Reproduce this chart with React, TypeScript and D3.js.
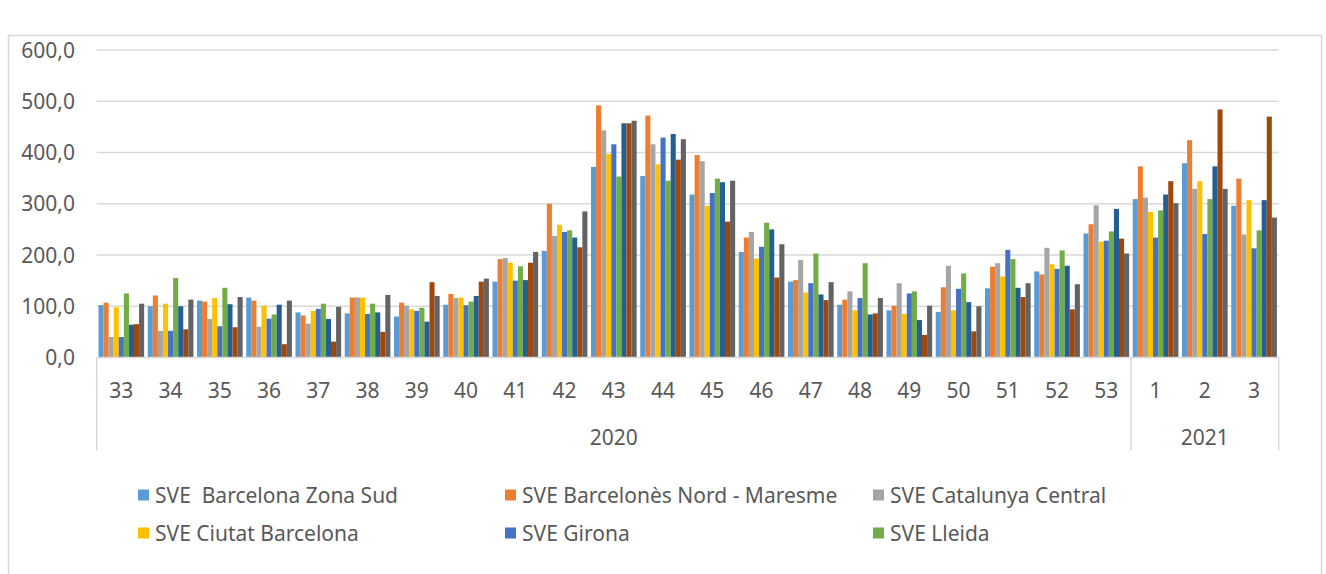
import React from "react";
import * as d3 from "d3";

const weeks = ["33","34","35","36","37","38","39","40","41","42","43","44","45","46","47","48","49","50","51","52","53","1","2","3"];
const years = [
  { label: "2020", from: 0, to: 21 },
  { label: "2021", from: 21, to: 24 },
];
const seriesNames = [
  "SVE  Barcelona Zona Sud",
  "SVE Barcelonès Nord - Maresme",
  "SVE Catalunya Central",
  "SVE Ciutat Barcelona",
  "SVE Girona",
  "SVE Lleida",
  "SVE Tarragona",
  "SVE Terres de l'Ebre",
  "SVE Vallès Occidental i Vallès Oriental",
];
const legendCount = 6;
const colors = ["#5B9BD5","#ED7D31","#A5A5A5","#FFC000","#4472C4","#70AD47","#255E91","#9E480E","#636363"];

const barcelonaZonaSud = [102,100,111,117,88,86,80,103,148,208,372,354,318,206,148,103,92,89,135,168,242,309,379,296];
const barcelonesNord   = [107,121,109,111,82,117,107,124,192,300,492,472,395,234,151,113,101,137,177,162,260,373,424,349];
const catalunyaCentral = [40,52,75,60,66,117,101,116,194,237,443,416,383,245,190,129,145,179,184,214,297,312,329,240];
const ciutatBarcelona  = [98,105,116,101,91,117,94,117,185,259,397,377,296,193,127,92,85,92,158,182,226,284,344,307];
const girona           = [40,52,61,76,95,85,91,102,150,245,416,429,321,216,145,116,125,134,210,173,228,234,241,213];
const lleida           = [125,155,136,84,105,105,97,109,178,248,353,345,349,263,203,184,129,164,192,209,246,287,309,248];
const tarragona        = [64,100,104,103,75,88,70,120,151,234,457,436,342,250,123,84,73,108,136,179,290,318,373,307];
const terresEbre       = [65,55,59,26,31,50,147,148,185,215,457,386,265,156,112,86,44,51,118,94,232,344,484,470];
const valles           = [105,113,118,111,99,122,120,154,206,285,462,426,345,221,147,116,101,100,145,143,203,301,329,273];

const seriesValues = [barcelonaZonaSud, barcelonesNord, catalunyaCentral, ciutatBarcelona, girona, lleida, tarragona, terresEbre, valles];
const yTicks = [0, 100, 200, 300, 400, 500, 600];

const W = 1326, H = 574;
const plotLeft = 96.7, plotRight = 1278.7, plotTop = 50, plotBottom = 357.5;
const FONT = "'Noto Sans', 'Open Sans', sans-serif";
const FS = 21;
const labelColor = "#595959";
const gridColor = "#D9D9D9";

export default function App() {
  const x0 = d3.scaleBand<string>().domain(weeks.map((w, i) => i + "")).range([plotLeft, plotRight]).paddingInner(0).paddingOuter(0);
  const step = x0.step();
  const groupW = step * 0.927;
  const x1 = d3.scaleBand<number>().domain(d3.range(seriesNames.length)).range([0, groupW]).padding(0);
  const y = d3.scaleLinear().domain([0, 600]).range([plotBottom, plotTop]);
  const fmt = (v: number) => d3.format(".1f")(v).replace(".", ",");

  const legendCols = [138, 505, 873];
  const legendRows = [495, 533];

  return (
    <svg width={W} height={H} style={{ position: "absolute", left: 0, top: 0, background: "#fff" }} fontFamily={FONT}>
      <rect x={0} y={0} width={W} height={H} fill="#fff" />
      <rect x={8.5} y={35.5} width={1313} height={H + 10} fill="none" stroke={gridColor} strokeWidth={1.5} />
      {yTicks.map((t) => (
        <g key={t}>
          {t > 0 && (
            <line x1={plotLeft} x2={plotRight} y1={y(t)} y2={y(t)} stroke={gridColor} strokeWidth={1.5} />
          )}
          <text x={75} y={y(t)} dy="0.36em" textAnchor="end" fontSize={FS} fill={labelColor}>{fmt(t)}</text>
        </g>
      ))}
      {weeks.map((w, i) => (
        <g key={i} transform={`translate(${x0(i + "")! + (step - groupW) / 2},0)`}>
          {seriesValues.map((vals, s) => (
            <rect key={s} x={x1(s)!} y={y(vals[i])} width={x1.bandwidth()} height={plotBottom - y(vals[i])} fill={colors[s]} />
          ))}
        </g>
      ))}
      <line x1={plotLeft} x2={plotRight} y1={plotBottom} y2={plotBottom} stroke={gridColor} strokeWidth={1.5} />
      {[0, 21, 24].map((k) => {
        const xx = k === 24 ? plotRight : x0(k + "")!;
        return <line key={k} x1={xx} x2={xx} y1={plotBottom} y2={450} stroke={gridColor} strokeWidth={1.5} />;
      })}
      {weeks.map((w, i) => (
        <text key={i} x={x0(i + "")! + step / 2} y={390} dy="0.36em" textAnchor="middle" fontSize={FS} fill={labelColor}>{w}</text>
      ))}
      {years.map((yr) => {
        const a = x0(yr.from + "")!;
        const b = yr.to === weeks.length ? plotRight : x0(yr.to + "")!;
        return (
          <text key={yr.label} x={(a + b) / 2} y={437} dy="0.36em" textAnchor="middle" fontSize={FS} fill={labelColor}>{yr.label}</text>
        );
      })}
      {seriesNames.slice(0, legendCount).map((name, s) => {
        const cx = legendCols[s % 3];
        const cy = legendRows[Math.floor(s / 3)];
        return (
          <g key={s}>
            <rect x={cx} y={cy - 5.5} width={11} height={11} fill={colors[s]} />
            <text x={cx + 17} y={cy} dy="0.36em" fontSize={FS} fill={labelColor} style={{ whiteSpace: "pre" }}>{name}</text>
          </g>
        );
      })}
    </svg>
  );
}
